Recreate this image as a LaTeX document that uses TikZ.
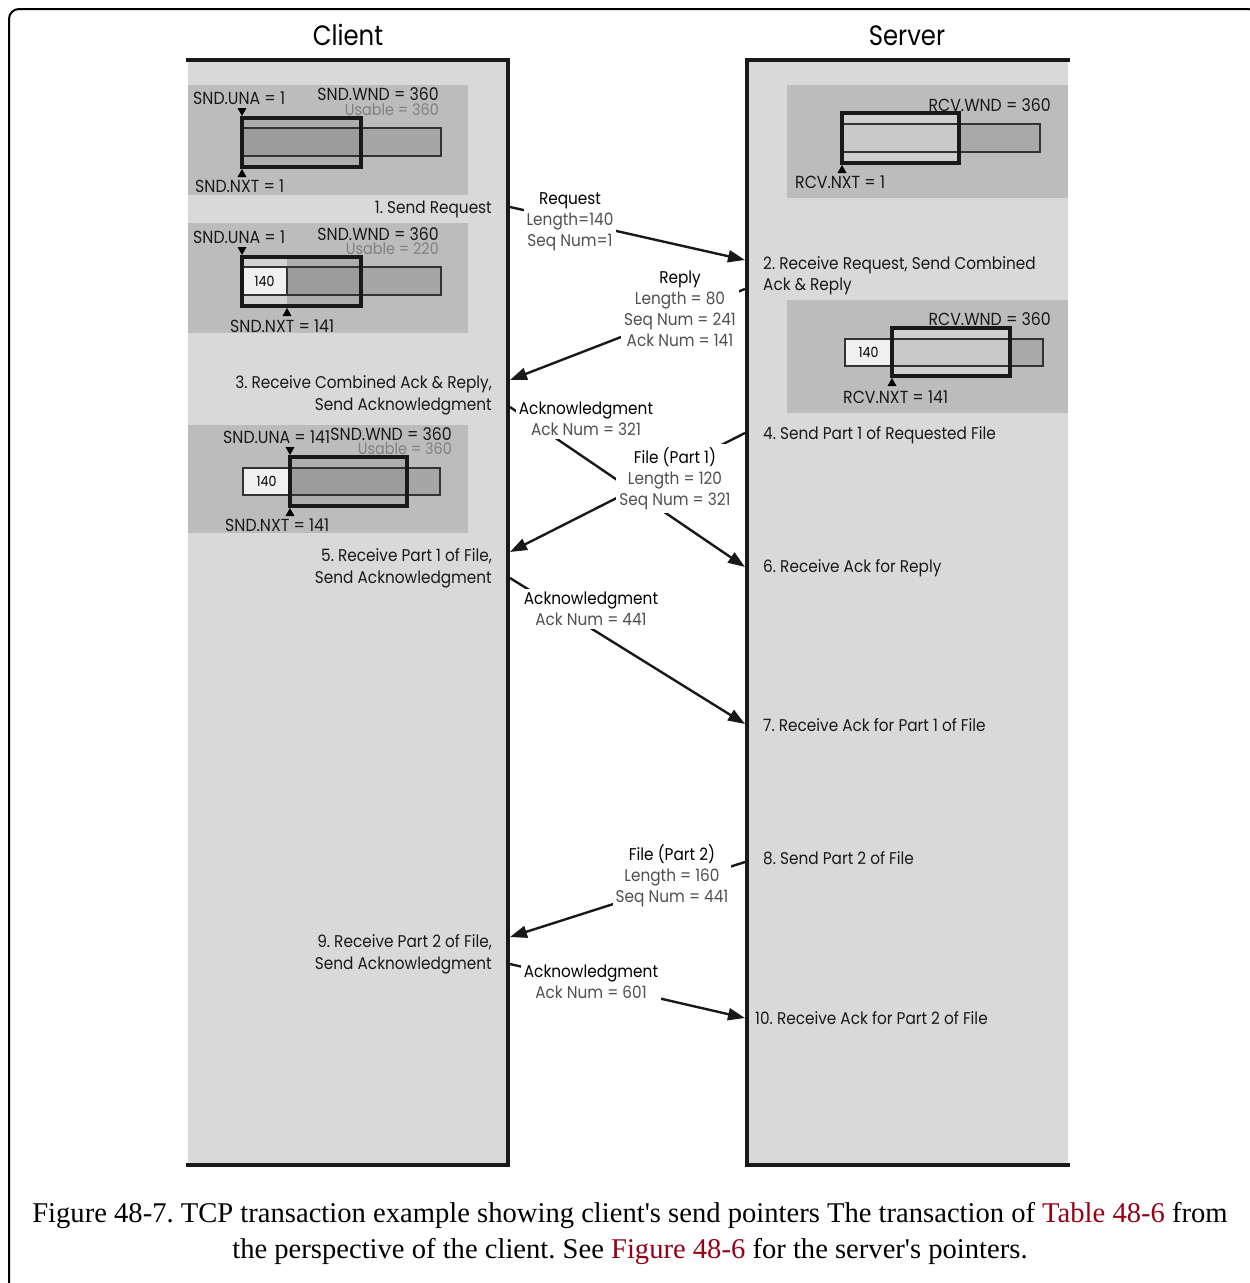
\documentclass[tikz,border=0pt]{standalone}
\usepackage{fontspec}
\setmainfont{Liberation Serif}
\newfontfamily\labfont[FakeStretch=0.9]{Poppins}
\newfontfamily\titfont[FakeStretch=0.87]{Poppins}
\usetikzlibrary{arrows.meta}
\frenchspacing
\definecolor{colbg}{HTML}{D9D9D9}
\definecolor{panelbg}{HTML}{BCBCBC}
\definecolor{wincol}{HTML}{9C9C9C}
\definecolor{stripc}{HTML}{ADADAD}
\definecolor{stripl}{HTML}{D2D2D2}
\definecolor{restgray}{HTML}{A6A6A6}
\definecolor{boxw}{HTML}{F0F0F0}
\definecolor{swin}{HTML}{C9C9C9}
\definecolor{sstrip}{HTML}{CFCFCF}
\definecolor{srest}{HTML}{A9A9A9}
\definecolor{msggray}{HTML}{505050}
\definecolor{usegray}{HTML}{808080}
\definecolor{linkred}{RGB}{150,0,20}
\newcommand\ptrdown[2]{\fill (#1-4.5,#2-8) -- (#1+4.5,#2-8) -- (#1,#2) -- cycle;}
\newcommand\ptrup[2]{\fill (#1-4.5,#2+8) -- (#1+4.5,#2+8) -- (#1,#2) -- cycle;}
\tikzset{
  steplab/.style={font=\labfont\fontsize{17}{21}\selectfont, inner sep=0pt, text=black!90},
  msglab/.style={font=\labfont\fontsize{17}{21}\selectfont, align=center, fill=white, inner sep=3pt, text=msggray, anchor=north},
  winlab/.style={font=\labfont\fontsize{17.5}{18}\selectfont, inner sep=0pt, text=black!90},
  usable/.style={font=\labfont\fontsize{16}{17}\selectfont, inner sep=0pt, text=usegray},
  boxlab/.style={font=\labfont\fontsize{14}{15}\selectfont, inner sep=0pt},
  msg/.style={line width=2.4pt, draw=black!90, -{Triangle[length=17pt,width=12pt]}},
  thinb/.style={line width=1.6pt, draw=black!80},
  thickb/.style={line width=3.6pt, draw=black!90},
  colb/.style={line width=4pt, draw=black!90},
  titlab/.style={font=\titfont\fontsize{28}{32}\selectfont, inner sep=0pt},
  caplab/.style={font=\fontsize{28.6}{32}\selectfont, inner sep=0pt, anchor=base}
}
\begin{document}
\begin{tikzpicture}[x=1pt,y=-1pt]
\useasboundingbox (0,0) rectangle (1250,1283);
\clip (0,0) rectangle (1250,1283);
\draw[line width=2pt, rounded corners=10pt] (9,9) rectangle (1258,1300);

% columns
\fill[colbg] (188,60) rectangle (508,1165);
\fill[colbg] (747,60) rectangle (1068,1165);
\draw[colb] (186,60) -- (508,60) -- (508,1165) -- (186,1165);
\draw[colb] (1070,60) -- (747,60) -- (747,1165) -- (1070,1165);
\node[titlab, anchor=base] (tclient) at (348,45) {Client};
\node[titlab, anchor=base] (tserver) at (907,45) {Server};

% client panel 1
\fill[panelbg] (188,85) rectangle (468,195);
\draw[thinb, fill=restgray] (361,128) rectangle (441,156);
\fill[stripc] (242,118) rectangle (361,167);
\draw[thinb, fill=wincol] (242,128) rectangle (361,156);
\draw[thickb] (242,118) rectangle (361,167);
\ptrdown{242}{116}
\ptrup{242}{169}
\node[winlab, anchor=base west] (una1) at (193,104) {SND.UNA = 1};
\node[winlab, anchor=base east] (wnd1) at (439,100) {SND.WND = 360};
\node[usable, anchor=base east] (use1) at (439,115) {Usable = 360};
\node[winlab, anchor=base west] (nxt1) at (195,192) {SND.NXT = 1};

% client panel 2
\fill[panelbg] (188,223) rectangle (468,333);
\draw[thinb, fill=restgray] (361,267) rectangle (441,295);
\fill[stripl] (242,257) rectangle (287,306);
\fill[stripc] (287,257) rectangle (361,306);
\draw[thinb, fill=wincol] (287,267) rectangle (361,295);
\draw[thinb, fill=boxw] (242,267) rectangle (287,295);
\node[boxlab] (b140a) at (264.5,281) {140};
\draw[thickb] (242,257) rectangle (361,306);
\ptrdown{242}{255}
\ptrup{287}{308}
\node[winlab, anchor=base west] (una2) at (193,243) {SND.UNA = 1};
\node[winlab, anchor=base east] (wnd2) at (439,240) {SND.WND = 360};
\node[usable, anchor=base east] (use2) at (439,254) {Usable = 220};
\node[winlab, anchor=base west] (nxt2) at (230,332) {SND.NXT = 141};

% client panel 3
\fill[panelbg] (188,425) rectangle (468,533);
\draw[thinb, fill=restgray] (407,468) rectangle (440,495);
\draw[thinb, fill=boxw] (243,468) rectangle (290,495);
\node[boxlab] (b140b) at (266.5,481.5) {140};
\fill[stripc] (290,457) rectangle (407,506);
\draw[thinb, fill=wincol] (290,468) rectangle (407,495);
\draw[thickb] (290,457) rectangle (407,506);
\ptrdown{290}{455}
\ptrup{290}{508}
\node[winlab, anchor=base west] (una3) at (223,443) {SND.UNA = 141};
\node[winlab, anchor=base east] (wnd3) at (452,440) {SND.WND = 360};
\node[usable, anchor=base east] (use3) at (452,454) {Usable = 360};
\node[winlab, anchor=base west] (nxt3) at (225,531) {SND.NXT = 141};

% server panel 1
\fill[panelbg] (787,85) rectangle (1068,198);
\draw[thinb, fill=srest] (959,124) rectangle (1040,152);
\fill[sstrip] (842,113) rectangle (959,163);
\draw[thinb, fill=swin] (842,124) rectangle (959,152);
\draw[thickb] (842,113) rectangle (959,163);
\ptrup{842}{165}
\node[winlab, anchor=base east] (rwnd1) at (1051,111) {RCV.WND = 360};
\node[winlab, anchor=base west] (rnxt1) at (795,188) {RCV.NXT = 1};

% server panel 2
\fill[panelbg] (787,300) rectangle (1068,413);
\draw[thinb, fill=srest] (1010,339) rectangle (1043,366);
\draw[thinb, fill=boxw] (845,339) rectangle (892,366);
\node[boxlab] (b140c) at (868.5,352.5) {140};
\fill[sstrip] (892,328) rectangle (1010,376);
\draw[thinb, fill=swin] (892,339) rectangle (1010,366);
\draw[thickb] (892,328) rectangle (1010,376);
\ptrup{892}{378}
\node[winlab, anchor=base east] (rwnd2) at (1051,325) {RCV.WND = 360};
\node[winlab, anchor=base west] (rnxt2) at (843,403) {RCV.NXT = 141};

% step labels
\node[steplab, anchor=base east] (st1) at (492,213) {1. Send Request};
\node[steplab, anchor=base east] (st3a) at (492,388) {3. Receive Combined Ack \& Reply,};
\node[steplab, anchor=base east] (st3b) at (492,410) {Send Acknowledgment};
\node[steplab, anchor=base east] (st5a) at (492,561) {5. Receive Part 1 of File,};
\node[steplab, anchor=base east] (st5b) at (492,583) {Send Acknowledgment};
\node[steplab, anchor=base east] (st9a) at (492,947) {9. Receive Part 2 of File,};
\node[steplab, anchor=base east] (st9b) at (492,969) {Send Acknowledgment};
\node[steplab, anchor=base west] (st2a) at (763,269) {2. Receive Request, Send Combined};
\node[steplab, anchor=base west] (st2b) at (763,290) {Ack \& Reply};
\node[steplab, anchor=base west] (st4) at (763,439) {4. Send Part 1 of Requested File};
\node[steplab, anchor=base west] (st6) at (763,572) {6. Receive Ack for Reply};
\node[steplab, anchor=base west] (st7) at (763,731) {7. Receive Ack for Part 1 of File};
\node[steplab, anchor=base west] (st8) at (763,864) {8. Send Part 2 of File};
\node[steplab, anchor=base west] (st10) at (755,1024) {10. Receive Ack for Part 2 of File};

% connector end points on the column edges
\coordinate (c1) at (510,207);
\coordinate (s2) at (745,260);
\coordinate (s2b) at (745,289);
\coordinate (c3) at (510,380);
\coordinate (c3b) at (510,407);
\coordinate (s6) at (745,567);
\coordinate (s4) at (745,433);
\coordinate (c5) at (510,552);
\coordinate (c5b) at (510,578);
\coordinate (s7) at (745,724);
\coordinate (s8) at (745,862);
\coordinate (c9) at (510,937);
\coordinate (c9b) at (510,964);
\coordinate (s10) at (745,1018);

\draw[msg] (c1) -- (s2);
\draw[msg] (s2b) -- (c3);
\draw[msg] (c3b) -- (s6);
\draw[msg] (s4) -- (c5);
\draw[msg] (c5b) -- (s7);
\draw[msg] (s8) -- (c9);
\draw[msg] (c9b) -- (s10);

% message labels
\node[msglab] (mreq) at (570,189) {{\color{black}Request}\\Length=140\\Seq Num=1};
\node[msglab] (mrep) at (680,268) {{\color{black}Reply}\\Length = 80\\Seq Num = 241\\Ack Num = 141};
\node[msglab] (mack1) at (586,399) {{\color{black}Acknowledgment}\\Ack Num = 321};
\node[msglab] (mfile1) at (675,444) {{\color{black}File (Part 1)}\\Length = 120\\Seq Num = 321};
\node[msglab] (mack2) at (591,589) {{\color{black}Acknowledgment}\\Ack Num = 441};
\node[msglab] (mfile2) at (672,841) {{\color{black}File (Part 2)}\\Length = 160\\Seq Num = 441};
\node[msglab] (mack3) at (591,962) {{\color{black}Acknowledgment}\\Ack Num = 601};

% caption
\node[caplab] (cap1) at (630,1222) {Figure 48-7. TCP transaction example showing client\textquotesingle s send pointers The transaction of \textcolor{linkred}{Table 48-6} from};
\node[caplab] (cap2) at (630,1258) {the perspective of the client. See \textcolor{linkred}{Figure 48-6} for the server\textquotesingle s pointers.};
\end{tikzpicture}
\end{document}
